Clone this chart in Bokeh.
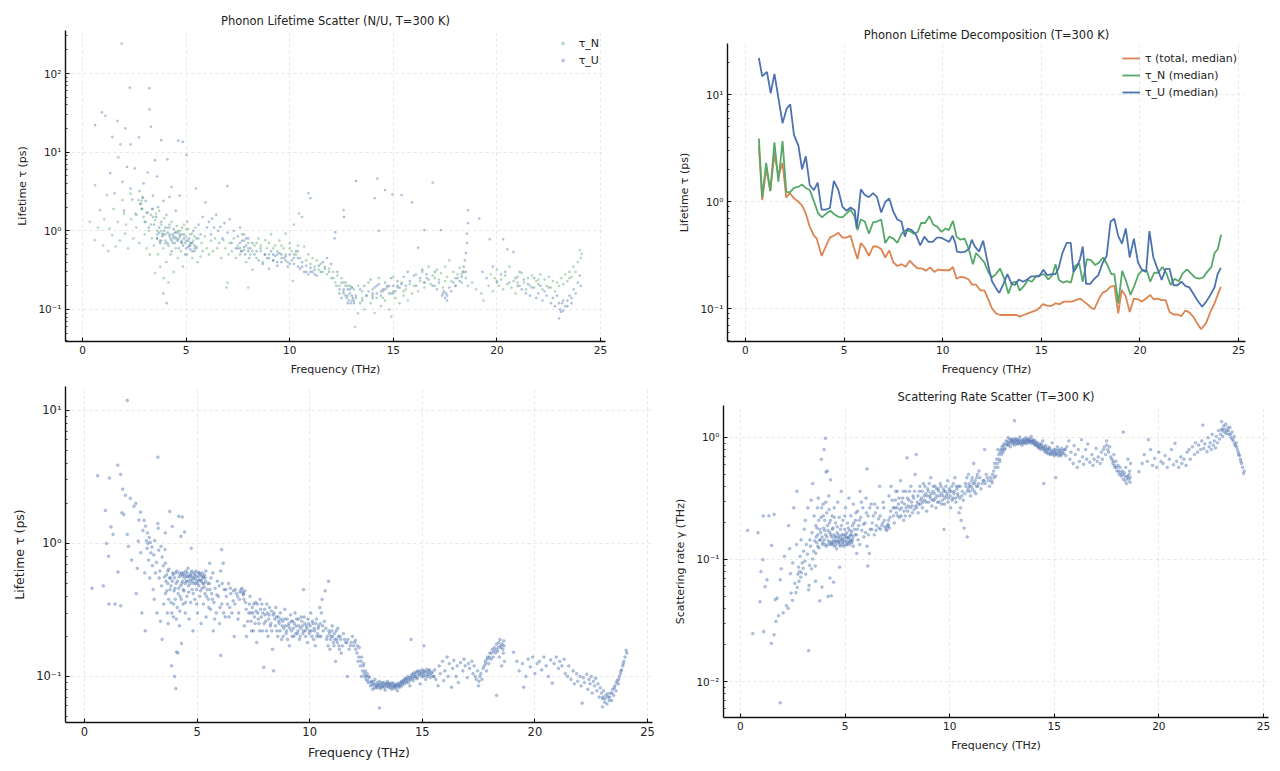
import math
from bokeh.plotting import figure
from bokeh.models import (Range1d, FixedTicker, CustomJSTickFormatter, Legend,
                          LegendItem)
from bokeh.layouts import column, row
from bokeh.embed import file_html
from bokeh.resources import INLINE

FONT = "DejaVu Sans"
BLUE = "#4C72B0"
GREEN = "#55A868"
ORANGE = "#DD8452"

# ---------------- data ----------------
X_TICKS = [0, 5, 10, 15, 20, 25]

# panel 2: binned medians (frequency THz, lifetime ps)
TAU_TOTAL_MED = [(0.68,3.28),(0.85,1.03),(1.05,2.03),(1.26,1.26),(1.47,2.8),(1.67,1.72),(1.88,2.3),(2.07,1.09),(2.25,1.2),(2.46,1.07),(2.67,1.0),(2.87,0.92),(3.06,0.77),(3.26,0.58),(3.47,0.48),(3.62,0.45),(3.86,0.31),(4.07,0.38),(4.28,0.46),(4.48,0.48),(4.71,0.51),(4.92,0.46),(5.12,0.46),(5.33,0.48),(5.48,0.38),(5.68,0.29),(5.85,0.41),(6.05,0.37),(6.26,0.31),(6.47,0.38),(6.67,0.38),(6.88,0.36),(7.09,0.3),(7.29,0.35),(7.5,0.27),(7.7,0.25),(7.91,0.26),(8.12,0.246),(8.33,0.28),(8.53,0.255),(8.74,0.237),(8.95,0.237),(9.15,0.226),(9.36,0.242),(9.57,0.22),(9.77,0.232),(9.98,0.228),(10.19,0.228),(10.35,0.228),(10.52,0.245),(10.7,0.19),(10.9,0.198),(11.11,0.195),(11.32,0.187),(11.49,0.167),(11.69,0.167),(11.9,0.148),(12.11,0.148),(12.31,0.122),(12.5,0.1),(12.7,0.09),(12.91,0.087),(13.12,0.087),(13.33,0.087),(13.53,0.087),(13.74,0.087),(13.9,0.084),(14.11,0.087),(14.32,0.09),(14.52,0.093),(14.73,0.096),(14.94,0.103),(15.1,0.11),(15.31,0.106),(15.52,0.106),(15.72,0.112),(15.93,0.11),(16.14,0.116),(16.34,0.116),(16.55,0.116),(16.76,0.12),(16.96,0.124),(17.17,0.116),(17.38,0.108),(17.58,0.1),(17.69,0.099),(17.89,0.12),(18.1,0.14),(18.31,0.147),(18.51,0.16),(18.7,0.163),(18.9,0.09),(19.07,0.149),(19.28,0.13),(19.48,0.093),(19.69,0.124),(19.9,0.122),(20.1,0.116),(20.31,0.124),(20.52,0.134),(20.68,0.122),(20.89,0.124),(21.1,0.12),(21.3,0.12),(21.5,0.093),(21.7,0.088),(21.9,0.088),(22.1,0.085),(22.3,0.096),(22.5,0.092),(22.7,0.084),(22.9,0.073),(23.1,0.064),(23.35,0.073),(23.57,0.093),(23.78,0.112),(23.94,0.134),(24.1,0.16)]

TAU_N_MED = [(0.68,3.87),(0.85,1.09),(1.05,2.3),(1.26,1.25),(1.47,3.58),(1.67,1.53),(1.88,3.68),(2.07,1.23),(2.25,1.22),(2.46,1.34),(2.67,1.37),(2.87,1.44),(3.06,1.34),(3.26,1.28),(3.47,1.01),(3.68,0.78),(3.88,0.71),(4.09,0.77),(4.3,0.82),(4.5,0.76),(4.71,0.72),(4.92,0.71),(5.12,0.77),(5.33,0.84),(5.54,0.72),(5.68,0.54),(5.85,0.68),(6.05,0.65),(6.26,0.5),(6.47,0.64),(6.67,0.65),(6.88,0.68),(7.09,0.41),(7.29,0.47),(7.5,0.45),(7.7,0.41),(7.91,0.5),(8.12,0.54),(8.33,0.53),(8.53,0.5),(8.74,0.52),(8.9,0.63),(9.11,0.63),(9.32,0.73),(9.52,0.61),(9.73,0.58),(9.94,0.52),(10.14,0.56),(10.31,0.54),(10.52,0.66),(10.7,0.47),(10.9,0.44),(11.11,0.45),(11.32,0.36),(11.53,0.26),(11.69,0.33),(11.9,0.3),(12.11,0.27),(12.31,0.22),(12.5,0.195),(12.7,0.21),(12.91,0.236),(13.12,0.19),(13.33,0.138),(13.53,0.175),(13.74,0.178),(13.9,0.147),(14.11,0.162),(14.32,0.185),(14.52,0.178),(14.73,0.2),(14.94,0.205),(15.15,0.21),(15.35,0.187),(15.56,0.205),(15.72,0.26),(15.89,0.185),(16.1,0.175),(16.3,0.18),(16.5,0.175),(16.71,0.25),(16.92,0.265),(17.1,0.178),(17.31,0.29),(17.52,0.283),(17.73,0.255),(17.93,0.27),(18.14,0.3),(18.35,0.255),(18.55,0.21),(18.7,0.21),(18.9,0.112),(19.1,0.225),(19.31,0.178),(19.52,0.134),(19.73,0.166),(19.93,0.21),(20.14,0.229),(20.35,0.225),(20.52,0.178),(20.72,0.216),(20.93,0.216),(21.14,0.245),(21.34,0.213),(21.55,0.166),(21.76,0.19),(21.96,0.18),(22.17,0.213),(22.38,0.232),(22.58,0.213),(22.79,0.195),(23.0,0.19),(23.2,0.195),(23.41,0.22),(23.62,0.245),(23.78,0.33),(23.95,0.36),(24.11,0.49)]

TAU_U_MED = [(0.68,22),(0.85,14.8),(0.97,15.5),(1.09,16.3),(1.28,10.3),(1.47,15.6),(1.88,5.4),(2.09,7.4),(2.27,8.1),(2.46,4.2),(2.69,3.3),(2.87,2.0),(3.06,2.65),(3.26,1.42),(3.47,1.28),(3.66,1.5),(3.86,0.84),(4.07,0.84),(4.28,0.87),(4.48,1.56),(4.71,1.28),(4.92,0.89),(5.12,0.82),(5.33,0.88),(5.54,0.83),(5.64,0.56),(5.85,1.3),(6.05,1.15),(6.26,1.1),(6.47,1.2),(6.67,1.1),(6.88,0.79),(7.09,0.99),(7.29,1.07),(7.5,0.8),(7.7,0.68),(7.91,0.65),(8.08,0.47),(8.22,0.56),(8.43,0.54),(8.64,0.49),(8.86,0.39),(9.07,0.47),(9.28,0.42),(9.49,0.42),(9.71,0.46),(9.92,0.46),(10.12,0.44),(10.33,0.42),(10.5,0.48),(10.64,0.41),(10.72,0.34),(10.93,0.335),(11.14,0.34),(11.35,0.365),(11.47,0.44),(11.63,0.38),(11.84,0.34),(12.05,0.43),(12.21,0.31),(12.36,0.23),(12.5,0.18),(12.7,0.155),(12.87,0.14),(13.08,0.17),(13.28,0.21),(13.49,0.17),(13.66,0.166),(13.86,0.187),(14.07,0.178),(14.28,0.187),(14.48,0.2),(14.69,0.2),(14.9,0.2),(15.1,0.23),(15.31,0.205),(15.52,0.21),(15.72,0.21),(15.87,0.236),(16.07,0.33),(16.28,0.41),(16.49,0.41),(16.63,0.22),(16.8,0.245),(16.96,0.29),(17.1,0.38),(17.27,0.17),(17.48,0.17),(17.69,0.19),(17.89,0.205),(18.1,0.265),(18.31,0.31),(18.51,0.65),(18.7,0.69),(18.9,0.475),(19.09,0.405),(19.28,0.56),(19.48,0.3),(19.69,0.45),(19.9,0.27),(20.1,0.23),(20.31,0.22),(20.48,0.53),(20.68,0.3),(20.89,0.235),(21.1,0.185),(21.3,0.235),(21.5,0.235),(21.7,0.165),(21.9,0.165),(22.1,0.178),(22.3,0.163),(22.5,0.158),(22.7,0.138),(22.9,0.12),(23.15,0.104),(23.36,0.116),(23.57,0.134),(23.78,0.158),(23.94,0.21),(24.1,0.24)]

# panel 3: total lifetime per mode (frequency THz, lifetime ps)
TAU_TOTAL_PTS = [
(0.34,0.46),(0.59,3.23),(0.84,0.48),(0.93,1.77),(0.98,1.0),(1.07,0.8),(1.09,0.35),(1.11,3.1),(1.18,1.33),(1.27,1.17),(1.36,0.35),(1.48,3.88),(1.49,0.61),(1.61,3.3),(1.61,0.34),(1.66,1.7),(1.70,2.56),(1.75,1.65),(1.82,2.3),(1.9,11.9),(1.9,1.17),(1.95,0.95),(2.04,2.18),(2.1,0.75),(2.2,1.9),(2.28,2.0),(2.3,0.42),(2.35,0.65),(2.39,1.04),(2.42,1.5),(2.49,1.72),(2.5,0.85),(2.55,0.3),
(2.6,1.25),(2.65,1.49),(2.68,0.6),(2.7,0.22),(2.71,1.35),(2.75,1.05),(2.78,0.92),(2.8,1.2),(2.82,1.0),(2.85,0.75),(2.88,1.11),(2.9,0.55),(2.92,1.02),(2.95,0.85),(3.0,0.94),(3.02,0.68),(3.05,0.45),(3.08,0.82),(3.1,0.38),(3.12,1.05),(3.15,0.6),(3.2,0.72),(3.22,0.3),(3.26,4.45),(3.26,1.41),(3.28,1.3),(3.3,0.89),(3.32,0.55),(3.35,0.62),(3.38,0.26),(3.4,0.95),(3.42,0.48),(3.45,0.79),(3.45,0.19),(3.5,0.68),(3.52,0.35),(3.55,0.56),(3.58,0.9),(3.59,1.2),(3.6,0.71),(3.6,0.42),
(3.65,0.58),(3.68,0.3),(3.7,0.5),(3.72,0.25),(3.75,0.64),(3.79,1.74),(3.8,0.45),(3.82,0.55),(3.85,0.36),(3.87,0.12),(3.9,1.34),(3.9,0.52),(3.92,0.6),(3.95,0.28),(3.98,0.44),(4.0,0.1),(4.0,0.55),(4.03,0.38),(4.06,0.081),(4.07,0.5),(4.09,0.153),(4.1,0.62),(4.12,0.33),(4.15,0.15),(4.18,0.46),(4.19,1.6),(4.2,0.56),(4.22,0.24),(4.25,0.4),(4.28,1.13),(4.28,0.58),(4.31,0.177),(4.32,0.5),(4.34,1.58),(4.35,0.57),(4.38,0.35),(4.4,0.6),(4.42,0.44),(4.45,1.22),(4.45,0.55),(4.48,0.3),(4.5,0.62),(4.52,0.52),(4.55,0.4),(4.58,0.56),(4.6,0.65),(4.62,0.48),(4.65,0.27),(4.68,0.58),(4.7,0.53),(4.72,0.36),(4.74,0.92),(4.75,0.6),(4.78,0.45),(4.8,0.55),(4.82,0.22),(4.85,0.5),(4.88,0.58),(4.9,0.38),(4.92,0.54),(4.95,0.62),(4.98,0.45),(5.0,0.52),(5.02,0.3),(5.05,0.56),(5.08,0.48),(5.1,0.6),(5.12,0.4),(5.15,0.53),(5.18,0.25),(5.2,0.57),(5.22,0.46),(5.25,0.55),(5.28,0.35),(5.3,0.5),(5.33,0.58),(5.35,0.42),(5.38,0.52),(5.4,0.28),(5.45,0.45),(5.5,0.38),(5.56,0.71),(5.55,0.5),(5.6,0.32),(5.65,0.42),(5.7,0.6),(5.72,0.22),(5.75,0.36),(5.8,0.46),(5.85,0.3),(5.9,0.52),(5.95,0.4),(6.0,0.25),(6.05,0.144),(6.05,0.62),(6.09,0.9),(6.1,0.35),(6.16,0.71),(6.2,0.45),
(3.62,0.52),(3.66,0.44),(3.7,0.62),(3.74,0.38),(3.78,0.55),(3.84,0.48),(3.88,0.3),(3.94,0.58),(3.96,0.35),(4.02,0.46),(4.05,0.6),(4.08,0.27),(4.13,0.52),(4.16,0.42),(4.21,0.6),(4.24,0.31),(4.27,0.48),(4.3,0.38),(4.33,0.6),(4.36,0.52),(4.39,0.45),(4.43,0.58),(4.47,0.5),(4.49,0.36),(4.53,0.57),(4.56,0.6),(4.59,0.52),(4.63,0.43),(4.66,0.56),(4.69,0.5),(4.73,0.57),(4.77,0.62),(4.79,0.52),(4.83,0.42),(4.86,0.55),(4.89,0.6),(4.93,0.5),(4.96,0.57),(4.99,0.35),(5.03,0.5),(5.06,0.6),(5.09,0.53),(5.13,0.58),(5.16,0.44),(5.19,0.52),(5.23,0.6),(5.26,0.5),(5.29,0.56),(5.32,0.47),(5.36,0.55),(5.39,0.62),(5.42,0.4),(5.48,0.5),(5.52,0.33),(5.58,0.45),(5.62,0.55),(5.68,0.38),(5.78,0.27),(5.88,0.41),(5.98,0.48),(6.02,0.33),(6.12,0.5),(6.18,0.3),
(6.25,0.28),(6.3,0.4),(6.4,0.5),(6.45,0.33),(6.5,0.42),(6.6,0.37),(6.65,0.2),(6.7,0.45),(6.8,0.4),(6.85,0.3),(6.9,0.43),(7.0,0.46),(7.05,0.41),(7.07,0.42),(7.1,0.24),(7.15,0.36),(7.2,0.2),(7.3,0.3),(7.35,0.4),(7.4,0.26),(7.45,0.33),(7.5,0.22),(7.55,0.28),(7.6,0.36),(7.65,0.18),(7.7,0.3),(7.75,0.25),(7.8,0.38),(7.85,0.28),(7.9,0.22),(7.96,0.117),(8.0,0.32),(8.05,0.26),(8.1,0.35),(8.15,0.2),(8.2,0.29),(8.25,0.24),(8.3,0.31),(8.35,0.16),(8.4,0.11),(8.45,0.27),(8.5,0.33),(8.55,0.22),(8.6,0.28),(8.65,0.25),(8.7,0.3),(8.75,0.19),(8.8,0.26),(8.85,0.23),(8.9,0.32),(8.95,0.21),(9.0,0.27),(9.05,0.24),(9.1,0.17),(9.15,0.29),(9.2,0.22),(9.25,0.26),(9.3,0.2),(9.35,0.3),(9.4,0.24),(9.45,0.21),(9.5,0.27),(9.55,0.19),(9.6,0.23),(9.65,0.26),(9.7,0.21),(9.73,0.45),(9.75,0.28),(9.8,0.22),(9.85,0.24),(9.9,0.18),(9.95,0.25),(10.0,0.22),(10.05,0.3),(10.1,0.2),(10.15,0.25),(10.2,0.23),(10.25,0.17),(10.3,0.27),(10.35,0.21),(10.4,0.24),(10.45,0.33),(10.5,0.2),(10.55,0.38),(10.6,0.22),
(6.28,0.45),(6.35,0.35),(6.42,0.28),(6.48,0.46),(6.55,0.3),(6.62,0.44),(6.68,0.35),(6.75,0.42),(6.82,0.27),(6.88,0.38),(6.95,0.45),(7.02,0.43),(7.08,0.38),(7.12,0.44),(7.18,0.32),(7.25,0.26),(7.32,0.35),(7.38,0.3),(7.42,0.22),(7.48,0.3),(7.52,0.35),(7.58,0.25),(7.62,0.31),(7.68,0.35),(7.72,0.27),(7.78,0.22),(7.82,0.32),(7.88,0.35),(7.92,0.3),(7.98,0.25),(8.02,0.29),(8.08,0.22),(8.12,0.3),(8.18,0.27),(8.22,0.33),(8.28,0.25),(8.32,0.22),(8.38,0.29),(8.42,0.3),(8.48,0.24),(8.52,0.28),(8.58,0.2),(8.62,0.26),(8.68,0.22),(8.72,0.27),(8.78,0.24),(8.82,0.2),(8.88,0.27),(8.92,0.24),(8.98,0.22),(9.02,0.19),(9.08,0.25),(9.12,0.23),(9.18,0.26),(9.22,0.2),(9.28,0.23),(9.32,0.25),(9.38,0.21),(9.42,0.27),(9.48,0.22),(9.52,0.24),(9.58,0.2),(9.62,0.28),(9.68,0.24),(9.72,0.22),(9.78,0.25),(9.82,0.2),(9.88,0.23),(9.92,0.27),(9.98,0.21),(10.02,0.24),(10.08,0.22),(10.12,0.26),(10.18,0.19),(10.22,0.22),(10.28,0.25),(10.32,0.2),(10.38,0.23),(10.42,0.2),(10.48,0.25),(10.52,0.3),(10.58,0.24),
(10.65,0.26),(10.69,0.44),(10.75,0.19),(10.84,0.52),(10.85,0.22),(10.9,0.16),(10.95,0.2),(11.0,0.24),(11.05,0.18),(11.1,0.21),(11.15,0.13),(11.2,0.19),(11.25,0.23),(11.3,0.17),(11.35,0.2),(11.4,0.15),(11.5,0.21),(11.6,0.18),(11.67,0.1),(11.7,0.19),(11.8,0.17),(11.9,0.2),(12.0,0.18),(12.03,0.187),(12.1,0.15),(12.15,0.13),(12.2,0.165),(12.25,0.12),(12.3,0.14),(12.3,0.1),(12.35,0.11),(12.4,0.125),(12.45,0.1),(12.5,0.095),(12.55,0.105),(12.6,0.09),(12.65,0.098),
(10.72,0.23),(10.78,0.2),(10.82,0.17),(10.88,0.21),(10.92,0.19),(10.98,0.22),(11.02,0.2),(11.08,0.17),(11.12,0.19),(11.18,0.22),(11.22,0.18),(11.28,0.2),(11.32,0.16),(11.38,0.19),(11.45,0.17),(11.55,0.19),(11.65,0.18),(11.75,0.16),(11.85,0.18),(11.95,0.17),(12.05,0.16),(12.12,0.17),(12.18,0.14),(12.28,0.13),(12.38,0.12),(12.42,0.105),(12.48,0.11),(12.52,0.1),(12.58,0.093),(12.62,0.1),
(12.7,0.085),(12.75,0.092),(12.8,0.08),(12.85,0.088),(12.9,0.095),(12.95,0.083),(13.0,0.09),(13.05,0.086),(13.1,0.058),(13.1,0.092),(13.15,0.081),(13.2,0.088),(13.25,0.084),(13.3,0.09),(13.35,0.079),(13.4,0.087),(13.45,0.092),(13.5,0.083),(13.55,0.088),(13.6,0.085),(13.65,0.08),(13.7,0.089),(13.75,0.084),(13.8,0.081),(13.85,0.087),(13.9,0.078),(13.95,0.086),(14.0,0.083),(14.05,0.09),(14.1,0.085),(14.15,0.093),(14.2,0.088),(14.25,0.097),(14.3,0.09),(14.35,0.1),(14.4,0.094),(14.45,0.085),(14.5,0.19),(14.5,0.098),(14.55,0.104),(14.6,0.093),(14.65,0.1),(14.7,0.108),(14.75,0.096),(14.8,0.11),(14.85,0.102),(14.9,0.088),(14.95,0.106),(15.0,0.112),(15.07,0.17),(15.05,0.1),(15.1,0.108),(15.15,0.095),(15.2,0.113),(15.25,0.103),(15.3,0.11),(15.35,0.098),(15.4,0.106),(15.5,0.1),(15.55,0.112),
(12.72,0.09),(12.78,0.086),(12.82,0.092),(12.88,0.082),(12.92,0.087),(12.98,0.085),(13.02,0.082),(13.08,0.088),(13.12,0.085),(13.18,0.083),(13.22,0.09),(13.28,0.086),(13.32,0.083),(13.38,0.088),(13.42,0.084),(13.48,0.089),(13.52,0.086),(13.58,0.082),(13.62,0.089),(13.68,0.085),(13.72,0.083),(13.78,0.087),(13.82,0.085),(13.88,0.083),(13.92,0.089),(13.98,0.085),(14.02,0.088),(14.08,0.092),(14.12,0.088),(14.18,0.091),(14.22,0.095),(14.28,0.093),(14.32,0.096),(14.38,0.09),(14.42,0.098),(14.48,0.094),(14.52,0.101),(14.58,0.097),(14.62,0.106),(14.68,0.1),(14.72,0.104),(14.78,0.098),(14.82,0.108),(14.88,0.104),(14.92,0.11),(14.98,0.1),(15.02,0.105),(15.08,0.11),(15.12,0.102),(15.18,0.108),(15.22,0.1),(15.28,0.106),(15.32,0.112),(15.38,0.102),(15.45,0.108),(15.52,0.1),
(15.6,0.095),(15.7,0.085),(15.75,0.12),(15.8,0.105),(15.9,0.13),(15.95,0.093),(16.0,0.11),(16.1,0.14),(16.15,0.1),(16.2,0.125),(16.3,0.083),(16.35,0.115),(16.4,0.132),(16.5,0.1),(16.55,0.12),(16.6,0.09),(16.7,0.127),(16.8,0.11),(16.85,0.135),(16.9,0.12),(17.0,0.098),(17.05,0.125),(17.1,0.115),(17.2,0.13),(17.25,0.105),(17.3,0.12),(17.35,0.1),(17.4,0.095),(17.45,0.11),(17.5,0.085),(17.52,0.092),(17.55,0.1),(17.6,0.105),(17.65,0.095),(17.7,0.115),
(17.75,0.12),(17.8,0.13),(17.85,0.11),(17.9,0.14),(17.95,0.125),(18.0,0.15),(18.05,0.135),(18.1,0.16),(18.15,0.14),(18.2,0.165),(18.25,0.15),(18.3,0.072),(18.3,0.175),(18.35,0.155),(18.4,0.18),(18.42,0.14),(18.45,0.19),(18.5,0.165),(18.52,0.12),(18.55,0.175),(18.6,0.15),(18.62,0.185),(18.65,0.13),
(17.82,0.125),(17.88,0.135),(17.98,0.14),(18.08,0.15),(18.18,0.155),(18.28,0.16),(18.38,0.165),(18.48,0.17),(18.58,0.16),(18.63,0.17),
(19.05,0.152),(19.2,0.13),(19.3,0.11),(19.45,0.125),(19.5,0.083),(19.6,0.1),(19.7,0.135),(19.8,0.118),(19.9,0.14),(20.0,0.105),(20.1,0.125),(20.2,0.13),(20.3,0.112),(20.4,0.14),(20.5,0.12),(20.6,0.1),(20.7,0.133),(20.77,0.089),(20.85,0.125),(20.95,0.14),(21.05,0.115),(21.1,0.13),(21.2,0.12),(21.3,0.135),(21.35,0.105),
(21.45,0.1),(21.5,0.12),(21.6,0.095),(21.7,0.11),(21.75,0.088),(21.85,0.105),(21.9,0.092),(22.0,0.1),(22.05,0.085),(22.1,0.063),(22.15,0.098),(22.2,0.09),(22.3,0.104),(22.35,0.08),(22.4,0.095),(22.45,0.088),(22.5,0.1),(22.55,0.075),(22.6,0.092),(22.65,0.085),(22.7,0.097),(22.75,0.078),(22.8,0.088),(22.85,0.07),(22.9,0.082),(22.95,0.075),(23.0,0.059),(23.0,0.068),(23.05,0.078),(23.1,0.064),(23.15,0.072),(23.2,0.062),(23.25,0.07),(23.3,0.066),(23.35,0.075),
(23.4,0.066),(23.45,0.08),(23.5,0.072),(23.55,0.085),(23.6,0.078),(23.65,0.093),(23.7,0.088),(23.75,0.1),(23.8,0.105),(23.85,0.112),(23.9,0.12),(23.95,0.13),(24.0,0.14),(24.05,0.157),(24.08,0.15),
(23.02,0.07),(23.12,0.068),(23.22,0.074),(23.32,0.07),(23.42,0.075),(23.52,0.082),(23.62,0.09),(23.72,0.095),(23.82,0.11),(23.92,0.125)]

# panel 1: Umklapp lifetimes per mode (frequency THz, lifetime ps)
TAU_U_PTS = [
(0.61,22),(0.94,32),(1.1,29),(1.34,5.4),(1.44,15.6),(1.55,3.0),(1.69,25),(1.73,8.6),(1.83,12.6),(1.89,240),(1.93,4.2),(2.0,1.8),(2.07,20),(2.15,6.5),(2.28,66),(2.32,12.6),(2.32,3.45),(2.4,2.5),(2.52,6.2),(2.6,1.6),(2.72,15.4),(2.75,3.2),(2.8,2.2),(2.85,1.9),(2.9,2.6),(2.95,4.0),(3.0,1.3),(3.05,2.4),(3.1,1.7),(3.15,5.5),(3.2,1.1),(3.23,65),(3.23,35),(3.3,21),(3.35,1.9),(3.4,2.8),(3.45,1.2),(3.5,7.9),
(3.55,1.5),(3.6,4.9),(3.62,0.9),(3.65,2.0),(3.7,1.1),(3.75,0.7),(3.8,14.2),(3.8,1.3),(3.85,0.85),(3.9,0.16),(3.9,2.4),(3.95,1.0),(4.0,0.75),(4.06,0.12),(4.05,1.6),(4.1,8.1),(4.1,0.95),(4.15,0.65),(4.2,2.7),(4.2,1.2),(4.25,0.8),(4.3,3.6),(4.3,0.55),(4.35,0.9),(4.4,1.05),(4.45,0.7),(4.5,0.82),(4.5,1.8),(4.55,0.78),(4.6,0.95),(4.63,14),(4.65,0.6),(4.69,2.8),(4.7,0.85),(4.75,0.72),(4.8,1.1),(4.84,13.5),(4.85,0.65),(4.9,0.9),(4.95,0.5),(5.0,0.75),(5.02,9.2),(5.05,1.3),(5.1,0.62),(5.15,0.8),(5.2,0.58),(5.25,0.7),(5.3,0.55),(5.35,1.0),(5.4,0.65),(5.47,3.45),(5.5,0.8),(5.6,1.2),(5.7,0.9),(5.8,1.5),(5.93,2.3),(6.0,1.1),
(3.6,0.8),(3.7,0.95),(3.8,0.75),(3.9,0.9),(4.0,1.1),(4.1,0.7),(4.2,0.9),(4.3,0.75),(4.4,0.85),(4.5,0.95),(4.6,0.75),(4.7,0.9),(4.8,0.7),(4.9,0.8),(5.0,0.6),(5.1,0.75),(5.2,0.65),(5.3,0.7),(5.4,0.55),(5.5,0.6),
(6.1,1.3),(6.2,0.9),(6.26,1.43),(6.35,1.1),(6.45,1.6),(6.55,1.0),(6.65,1.12),(6.75,0.8),(6.85,1.25),(6.99,3.7),(7.0,0.95),(7.1,1.4),(7.2,0.7),(7.3,1.0),(7.4,0.6),(7.5,0.85),(7.6,1.1),(7.65,0.55),(7.7,0.75),(7.8,0.9),(7.85,0.5),(7.9,0.65),(8.0,0.8),(8.05,0.45),(8.1,0.6),(8.2,0.7),(8.3,0.5),(8.4,0.55),(8.5,0.42),
(7.5,0.6),(7.6,0.7),(7.7,0.55),(7.8,0.62),(7.9,0.8),(8.0,0.55),
(8.6,0.6),(8.7,0.38),(8.8,0.5),(8.9,0.45),(9.0,0.33),(9.1,0.55),(9.2,0.42),(9.3,0.48),(9.4,0.36),(9.5,0.52),(9.6,0.4),(9.7,0.45),(9.8,0.47),(9.9,0.35),(10.0,0.5),(10.1,0.42),(10.2,0.38),(10.3,0.55),(10.4,0.45),(10.5,0.33),(10.6,0.4),(10.7,0.3),(10.8,0.36),(10.9,3.0),(10.9,0.28),(11.0,2.6),(11.0,0.34),(11.1,0.3),(11.2,0.32),(11.3,0.27),(11.4,0.36),(11.5,0.3),
(9.0,0.45),(9.2,0.5),(9.4,0.4),(9.6,0.5),(9.8,0.42),(10.0,0.38),(10.2,0.45),(10.4,0.35),(10.6,0.35),(10.8,0.3),(11.0,0.3),(11.2,0.28),
(11.6,0.4),(11.7,0.33),(11.8,0.45),(11.9,0.3),(12.0,0.38),(12.1,0.25),(12.17,0.8),(12.2,0.96),(12.25,0.2),(12.3,0.3),(12.4,0.18),(12.5,0.22),(12.6,1.83),(12.62,1.5),(12.6,0.16),(12.7,0.2),(12.75,0.14),(12.8,0.18),(12.85,0.13),(12.9,0.16),(12.95,0.12),(13.0,0.19),(13.05,0.14),(13.1,0.12),(13.2,4.3),(13.2,0.15),
(12.4,0.16),(12.5,0.14),(12.6,0.18),(12.7,0.15),(12.8,0.12),(12.9,0.18),(13.0,0.15),(13.1,0.13),
(13.4,0.18),(13.5,0.13),(13.6,0.2),(13.7,0.15),(13.8,0.17),(13.9,0.24),(14.0,0.14),(14.1,2.6),(14.1,0.19),(14.2,0.16),(14.23,4.6),(14.3,1.0),(14.3,0.21),(14.4,0.15),(14.5,0.18),(14.6,3.3),(14.6,0.22),(14.7,0.19),(14.8,0.16),(14.9,0.25),(14.96,2.9),(15.0,0.2),(15.1,0.17),(15.2,0.23),(15.3,0.19),(15.4,2.85),(15.4,0.21),(15.5,0.26),(15.6,0.2),(15.7,0.3),(15.8,0.23),(15.9,2.3),(16.0,0.27),(16.1,0.2),(16.2,0.61),(16.3,0.25),(16.4,0.32),(16.5,1.02),(16.5,0.22),(16.6,0.28),(16.7,0.24),(16.9,4.1),
(14.0,0.16),(14.2,0.2),(14.4,0.17),(14.6,0.18),(14.8,0.2),(15.0,0.16),(15.2,0.2),
(16.9,0.2),(17.0,0.3),(17.1,0.18),(17.2,0.22),(17.3,1.02),(17.35,0.15),(17.45,0.17),(17.5,0.14),(17.55,0.16),(17.6,0.13),(17.7,0.19),(17.8,0.17),(17.9,0.22),(18.0,0.2),(18.1,0.25),(18.2,0.23),(18.3,0.26),(18.35,0.3),(18.4,0.35),(18.45,0.42),(18.5,0.52),(18.5,0.3),(18.55,0.7),(18.55,0.92),(18.6,1.25),(18.6,1.83),(19.15,1.43),
(17.4,0.16),(17.6,0.15),
(19.3,0.3),(19.5,0.25),(19.65,0.78),(19.8,0.35),(20.0,0.22),(20.2,0.28),(20.3,0.78),(20.4,0.3),(20.5,0.58),(20.6,0.22),(20.8,0.54),(20.9,0.25),(21.0,0.2),(21.1,0.3),(21.2,0.18),(21.3,0.24),(21.4,0.16),(21.5,0.21),(21.6,0.15),(21.7,0.19),(21.8,0.25),(21.9,0.14),(22.0,0.16),(22.1,0.2),(22.2,0.13),(22.3,0.17),(22.4,0.15),(22.5,0.19),(22.6,0.12),(22.7,0.14),(22.8,0.11),(22.9,0.15),(23.0,0.077),(23.05,0.1),(23.1,0.093),(23.15,0.12),(23.2,0.097),(23.3,0.11),(23.4,0.13),(23.5,0.15),(23.6,0.12),(23.7,0.18),(23.8,0.16),(23.9,0.22),(24.0,0.27),(24.05,0.2),
(23.0,0.12),(23.2,0.13),(23.4,0.11),(23.6,0.14)]

# panel 1: normal-process lifetimes per mode (frequency THz, lifetime ps)
TAU_N_PTS = [
(0.35,1.3),(0.59,0.76),(0.61,3.8),(0.75,1.1),(0.85,1.83),(1.0,0.65),(1.05,1.4),(1.18,2.85),(1.25,0.55),(1.3,1.07),(1.44,0.88),(1.5,1.9),(1.6,0.63),(1.7,1.3),(1.8,0.75),(1.93,2.45),(2.0,1.66),(2.05,0.92),(2.1,1.2),(2.2,0.6),(2.32,2.97),(2.35,1.4),(2.45,0.8),(2.55,1.66),(2.6,1.1),(2.7,2.45),(2.75,0.7),(2.8,2.2),(2.85,2.4),(2.88,1.9),(2.91,2.7),(2.95,1.5),(3.0,0.9),(3.05,1.3),(3.1,0.6),(3.15,1.7),(3.2,1.0),(3.25,0.5),(3.3,1.2),(3.35,0.8),(3.4,1.9),(3.45,0.65),(3.5,1.37),
(3.3,1.6),(3.4,1.5),
(3.5,0.29),(3.55,1.66),(3.6,1.0),(3.65,0.5),(3.7,1.8),(3.72,0.75),(3.75,0.35),(3.8,1.2),(3.85,0.92),(3.9,0.6),(3.92,0.25),(3.95,1.45),(4.0,0.69),(4.05,0.4),(4.1,1.1),(4.15,0.22),(4.2,0.85),(4.25,0.5),(4.3,1.3),(4.35,0.7),(4.4,0.3),(4.45,0.95),(4.5,0.6),(4.55,1.15),(4.6,0.45),(4.65,0.8),(4.7,1.0),(4.75,0.55),(4.8,0.9),(4.85,0.35),(4.9,1.2),(4.95,0.7),(5.0,0.85),(5.05,0.5),(5.1,1.05),(5.15,0.65),(5.2,0.9),(5.28,0.92),(5.3,0.45),(5.35,0.75),(5.4,0.6),(5.45,1.1),(5.5,0.63),(5.55,0.4),(5.6,0.8),(5.7,0.47),(5.75,0.7),(5.8,0.55),(5.9,0.85),(6.0,0.6),(6.1,0.5),
(3.6,0.8),(3.8,1.0),(4.0,0.9),(4.2,1.1),(4.4,0.8),(4.6,1.0),(4.8,0.75),(5.0,1.05),(5.2,0.7),(5.4,0.85),
(6.2,0.75),(6.3,0.55),(6.4,0.8),(6.5,0.6),(6.6,0.7),(6.7,0.45),(6.8,0.76),(6.9,0.6),(6.95,0.19),(7.0,0.22),(7.05,0.5),(7.1,0.7),(7.2,0.55),(7.3,0.8),(7.4,0.45),(7.5,0.65),(7.6,0.5),(7.7,0.9),(7.8,0.57),(7.9,0.4),(8.0,0.19),(8.0,0.7),(8.1,0.5),(8.2,0.32),(8.3,0.65),(8.4,0.45),(8.5,0.8),(8.6,0.55),(8.7,0.4),(8.82,0.76),(8.9,0.6),(9.0,0.5),(9.1,0.9),(9.2,0.42),(9.3,0.65),(9.4,0.5),(9.5,0.75),(9.6,0.45),(9.7,0.6),(9.8,0.92),(9.9,0.4),(10.0,0.7),(10.1,0.55),(10.15,0.23),(10.2,1.2),(10.3,0.5),(10.4,0.65),(10.45,1.66),(10.5,0.45),(10.6,1.5),
(7.6,0.6),(7.8,0.75),(8.0,0.6),(8.2,0.55),(8.4,0.7),(8.6,0.65),(8.8,0.5),(9.0,0.7),(9.2,0.6),(9.4,0.55),(9.6,0.65),(9.8,0.5),(10.0,0.6),(10.2,0.5),(10.4,0.55),
(10.7,0.63),(10.8,0.42),(10.9,0.5),(11.0,0.38),(11.1,0.45),(11.2,0.35),(11.3,0.42),(11.4,0.32),(11.5,0.38),(11.6,0.3),(11.7,0.35),(11.8,0.28),(11.9,0.33),(12.0,0.25),(12.1,0.3),(12.2,0.22),(12.3,0.27),(12.4,0.2),(12.5,0.25),(12.6,0.17),(12.7,0.22),(12.8,0.15),(12.9,0.2),(13.0,0.13),(13.1,0.18),(13.15,0.06),(13.2,0.14),
(12.6,0.22),(12.8,0.2),(13.0,0.19),
(13.3,0.089),(13.3,0.2),(13.4,0.12),(13.5,0.17),(13.6,0.1),(13.7,0.15),(13.8,0.22),(13.9,0.12),(14.0,0.18),(14.1,0.09),(14.2,0.14),(14.3,0.25),(14.4,0.11),(14.5,0.17),(14.6,0.13),(14.7,0.2),(14.8,0.1),(14.9,0.081),(14.9,0.16),(15.0,0.26),(15.1,0.14),(15.2,0.19),(15.3,0.12),(15.4,0.22),(15.5,0.15),(15.6,0.18),(15.7,0.13),(15.8,0.21),(15.9,0.16),
(13.5,0.14),(14.0,0.15),(14.5,0.14),(15.0,0.17),(15.5,0.17),
(16.0,0.2),(16.1,0.28),(16.2,0.17),(16.3,0.23),(16.4,0.3),(16.5,0.19),(16.6,0.25),(16.7,0.35),(16.8,0.21),(16.9,0.27),(17.0,0.2),(17.1,0.32),(17.2,0.24),(17.3,0.29),(17.4,0.19),(17.5,0.35),(17.6,0.26),(17.7,0.42),(17.8,0.23),(17.9,0.3),(18.0,0.2),(18.1,0.28),(18.2,0.34),(18.3,0.22),(18.4,0.3),(18.5,0.25),(18.6,0.2),(18.8,0.22),(19.0,0.18),(19.25,0.16),(19.35,0.13),
(16.5,0.22),(17.0,0.25),(17.5,0.23),(18.0,0.25),(18.3,0.28),
(19.6,0.2),(19.7,0.28),(19.8,0.17),(19.9,0.25),(20.0,0.32),(20.1,0.2),(20.2,0.24),(20.3,0.18),(20.4,0.27),(20.5,0.21),(20.6,0.35),(20.7,0.19),(20.8,0.23),(20.9,0.16),(21.0,0.26),(21.1,0.2),(21.2,0.29),(21.3,0.22),(21.4,0.18),(21.5,0.25),(21.6,0.2),(21.7,0.27),(21.8,0.19),(21.9,0.23),(22.0,0.21),(22.1,0.28),(22.2,0.18),(22.3,0.24),(22.4,0.2),(22.5,0.26),(22.6,0.19),(22.7,0.23),(22.8,0.17),(22.9,0.22),(23.0,0.2),(23.1,0.25),(23.2,0.21),(23.3,0.28),(23.4,0.23),(23.5,0.3),(23.6,0.26),(23.7,0.35),(23.8,0.3),(23.9,0.4),(24.0,0.57),(24.05,0.45),(24.1,0.51),
(20.0,0.23),(21.0,0.22),(22.0,0.24),(23.5,0.25)]


def unzip(pts):
    return [a for a, b in pts], [b for a, b in pts]


# ---------------- helpers ----------------
SUP = CustomJSTickFormatter(code="""
const e = Math.round(Math.log10(tick));
const m = {'-':'\u207b','0':'\u2070','1':'\u00b9','2':'\u00b2','3':'\u00b3','4':'\u2074','5':'\u2075','6':'\u2076','7':'\u2077','8':'\u2078','9':'\u2079'};
return '10' + String(e).split('').map(c => m[c]).join('');
""")

MAJOR_Y = [10.0 ** d for d in range(-3, 4)]
MINOR_Y = [m * 10.0 ** d for d in range(-3, 4) for m in range(2, 10)]


def make_fig(xr, ylog, fw, fh, bl, br, bt, bb, title=None, title_standoff=3,
             xlabel="Frequency (THz)", ylabel="", label_size="11px", tick_size="10.5px"):
    kw = dict(x_range=Range1d(*xr), y_range=Range1d(10 ** ylog[0], 10 ** ylog[1]),
              y_axis_type="log", frame_width=fw, frame_height=fh,
              min_border_left=bl, min_border_right=br, min_border_top=bt,
              min_border_bottom=bb, output_backend="svg", toolbar_location=None)
    p = figure(**kw)
    if title:
        p.title.text = title
        p.title.align = "center"
        p.title.text_font = FONT
        p.title.text_font_size = "11.5px"
        p.title.text_font_style = "normal"
        p.title.text_color = "#222222"
        p.title.standoff = title_standoff
        p.title.offset = 0
    p.outline_line_color = None
    p.background_fill_color = "white"
    xt = FixedTicker(ticks=X_TICKS, minor_ticks=[])
    yt = FixedTicker(ticks=MAJOR_Y, minor_ticks=MINOR_Y)
    p.xaxis.ticker = xt
    p.yaxis.ticker = yt
    p.xgrid.ticker = xt
    p.ygrid.ticker = yt
    p.yaxis.formatter = SUP
    for ax in (p.xaxis[0], p.yaxis[0]):
        ax.axis_line_color = "#111111"
        ax.axis_line_width = 1.4
        ax.major_tick_in = 4
        ax.major_tick_out = 0
        ax.major_tick_line_color = "#111111"
        ax.major_tick_line_width = 1.1
        ax.minor_tick_in = 2
        ax.minor_tick_out = 0
        ax.minor_tick_line_color = "#111111"
        ax.minor_tick_line_width = 0.8
        ax.major_label_text_font = FONT
        ax.major_label_text_font_size = tick_size
        ax.major_label_text_color = "#222222"
        ax.axis_label_text_font = FONT
        ax.axis_label_text_font_size = label_size
        ax.axis_label_text_font_style = "normal"
        ax.axis_label_text_color = "#222222"
        ax.major_label_standoff = 4
        ax.axis_label_standoff = 6
    p.xaxis.axis_label = xlabel
    p.yaxis.axis_label = ylabel
    for g in (p.xgrid[0], p.ygrid[0]):
        g.grid_line_color = "#d9d9d9"
        g.grid_line_dash = "3 3"
        g.grid_line_width = 0.8
        g.grid_line_alpha = 0.8
    return p


# ---------------- panel 1 ----------------
p1 = make_fig((-0.82, 25.24), (-1.407, 2.547), 540, 311, 65, 43, 30, 37,
              title="Phonon Lifetime Scatter (N/U, T=300 K)", title_standoff=6,
              ylabel="Lifetime \u03c4 (ps)")
fN, tN = unzip(TAU_N_PTS)
fU, tU = unzip(TAU_U_PTS)
rN = p1.scatter(fN, tN, size=2.3, fill_color=GREEN, line_color=GREEN,
                fill_alpha=0.4, line_alpha=0.4, line_width=0.4)
rU = p1.scatter(fU, tU, size=2.3, fill_color=BLUE, line_color=BLUE,
                fill_alpha=0.4, line_alpha=0.4, line_width=0.4)
leg1 = Legend(items=[LegendItem(label="\u03c4_N", renderers=[rN]),
                     LegendItem(label="\u03c4_U", renderers=[rU])],
              location="top_right", border_line_color=None, background_fill_alpha=0,
              label_text_font=FONT, label_text_font_size="11px", label_text_color="#222222",
              glyph_width=8, glyph_height=8, label_height=14, spacing=3, padding=2,
              margin=6, label_standoff=12)
p1.add_layout(leg1)

# ---------------- panel 2 ----------------
p2 = make_fig((-0.91, 25.35), (-1.308, 1.477), 518, 298, 79, 30, 43, 37,
              title="Phonon Lifetime Decomposition (T=300 K)", ylabel="Lifetime \u03c4 (ps)")
fT, vT = unzip(TAU_TOTAL_MED)
fNm, vNm = unzip(TAU_N_MED)
fUm, vUm = unzip(TAU_U_MED)
l1 = p2.line(fT, vT, line_color=ORANGE, line_width=1.8)
l2 = p2.line(fNm, vNm, line_color=GREEN, line_width=1.8)
l3 = p2.line(fUm, vUm, line_color=BLUE, line_width=1.8)
leg2 = Legend(items=[LegendItem(label="\u03c4 (total, median)", renderers=[l1]),
                     LegendItem(label="\u03c4_N (median)", renderers=[l2]),
                     LegendItem(label="\u03c4_U (median)", renderers=[l3])],
              location="top_right", border_line_color=None, background_fill_alpha=0,
              label_text_font=FONT, label_text_font_size="11px", label_text_color="#222222",
              glyph_width=18, glyph_height=14, spacing=3, padding=2, margin=8,
              label_standoff=5)
p2.add_layout(leg2)

# ---------------- panel 3 ----------------
p3 = make_fig((-0.84, 25.22), (-1.346, 1.18), 587, 336, 65, 13, 8, 47,
              ylabel="Lifetime \u03c4 (ps)", label_size="12.5px", tick_size="11.5px")
f3, t3 = unzip(TAU_TOTAL_PTS)
p3.scatter(f3, t3, size=2.8, fill_color=BLUE, line_color=BLUE,
           fill_alpha=0.4, line_alpha=0.55, line_width=0.5)

# ---------------- panel 4 ----------------
# scattering rate from the same modes' total lifetime: gamma = 1/(4*pi*tau)
g4 = [1.0 / (4.0 * math.pi * t) for t in t3]
p4 = make_fig((-0.81, 25.24), (-2.295, 0.262), 545, 312, 58, 8, 27, 47,
              title="Scattering Rate Scatter (T=300 K)", ylabel="Scattering rate \u03b3 (THz)")
p4.scatter(f3, g4, size=2.8, fill_color=BLUE, line_color=BLUE,
           fill_alpha=0.4, line_alpha=0.55, line_width=0.5)

layout = column(row(column(p1), column(p2)), row(column(p3), column(p4)))
open("out.html", "w").write(file_html(layout, INLINE))
